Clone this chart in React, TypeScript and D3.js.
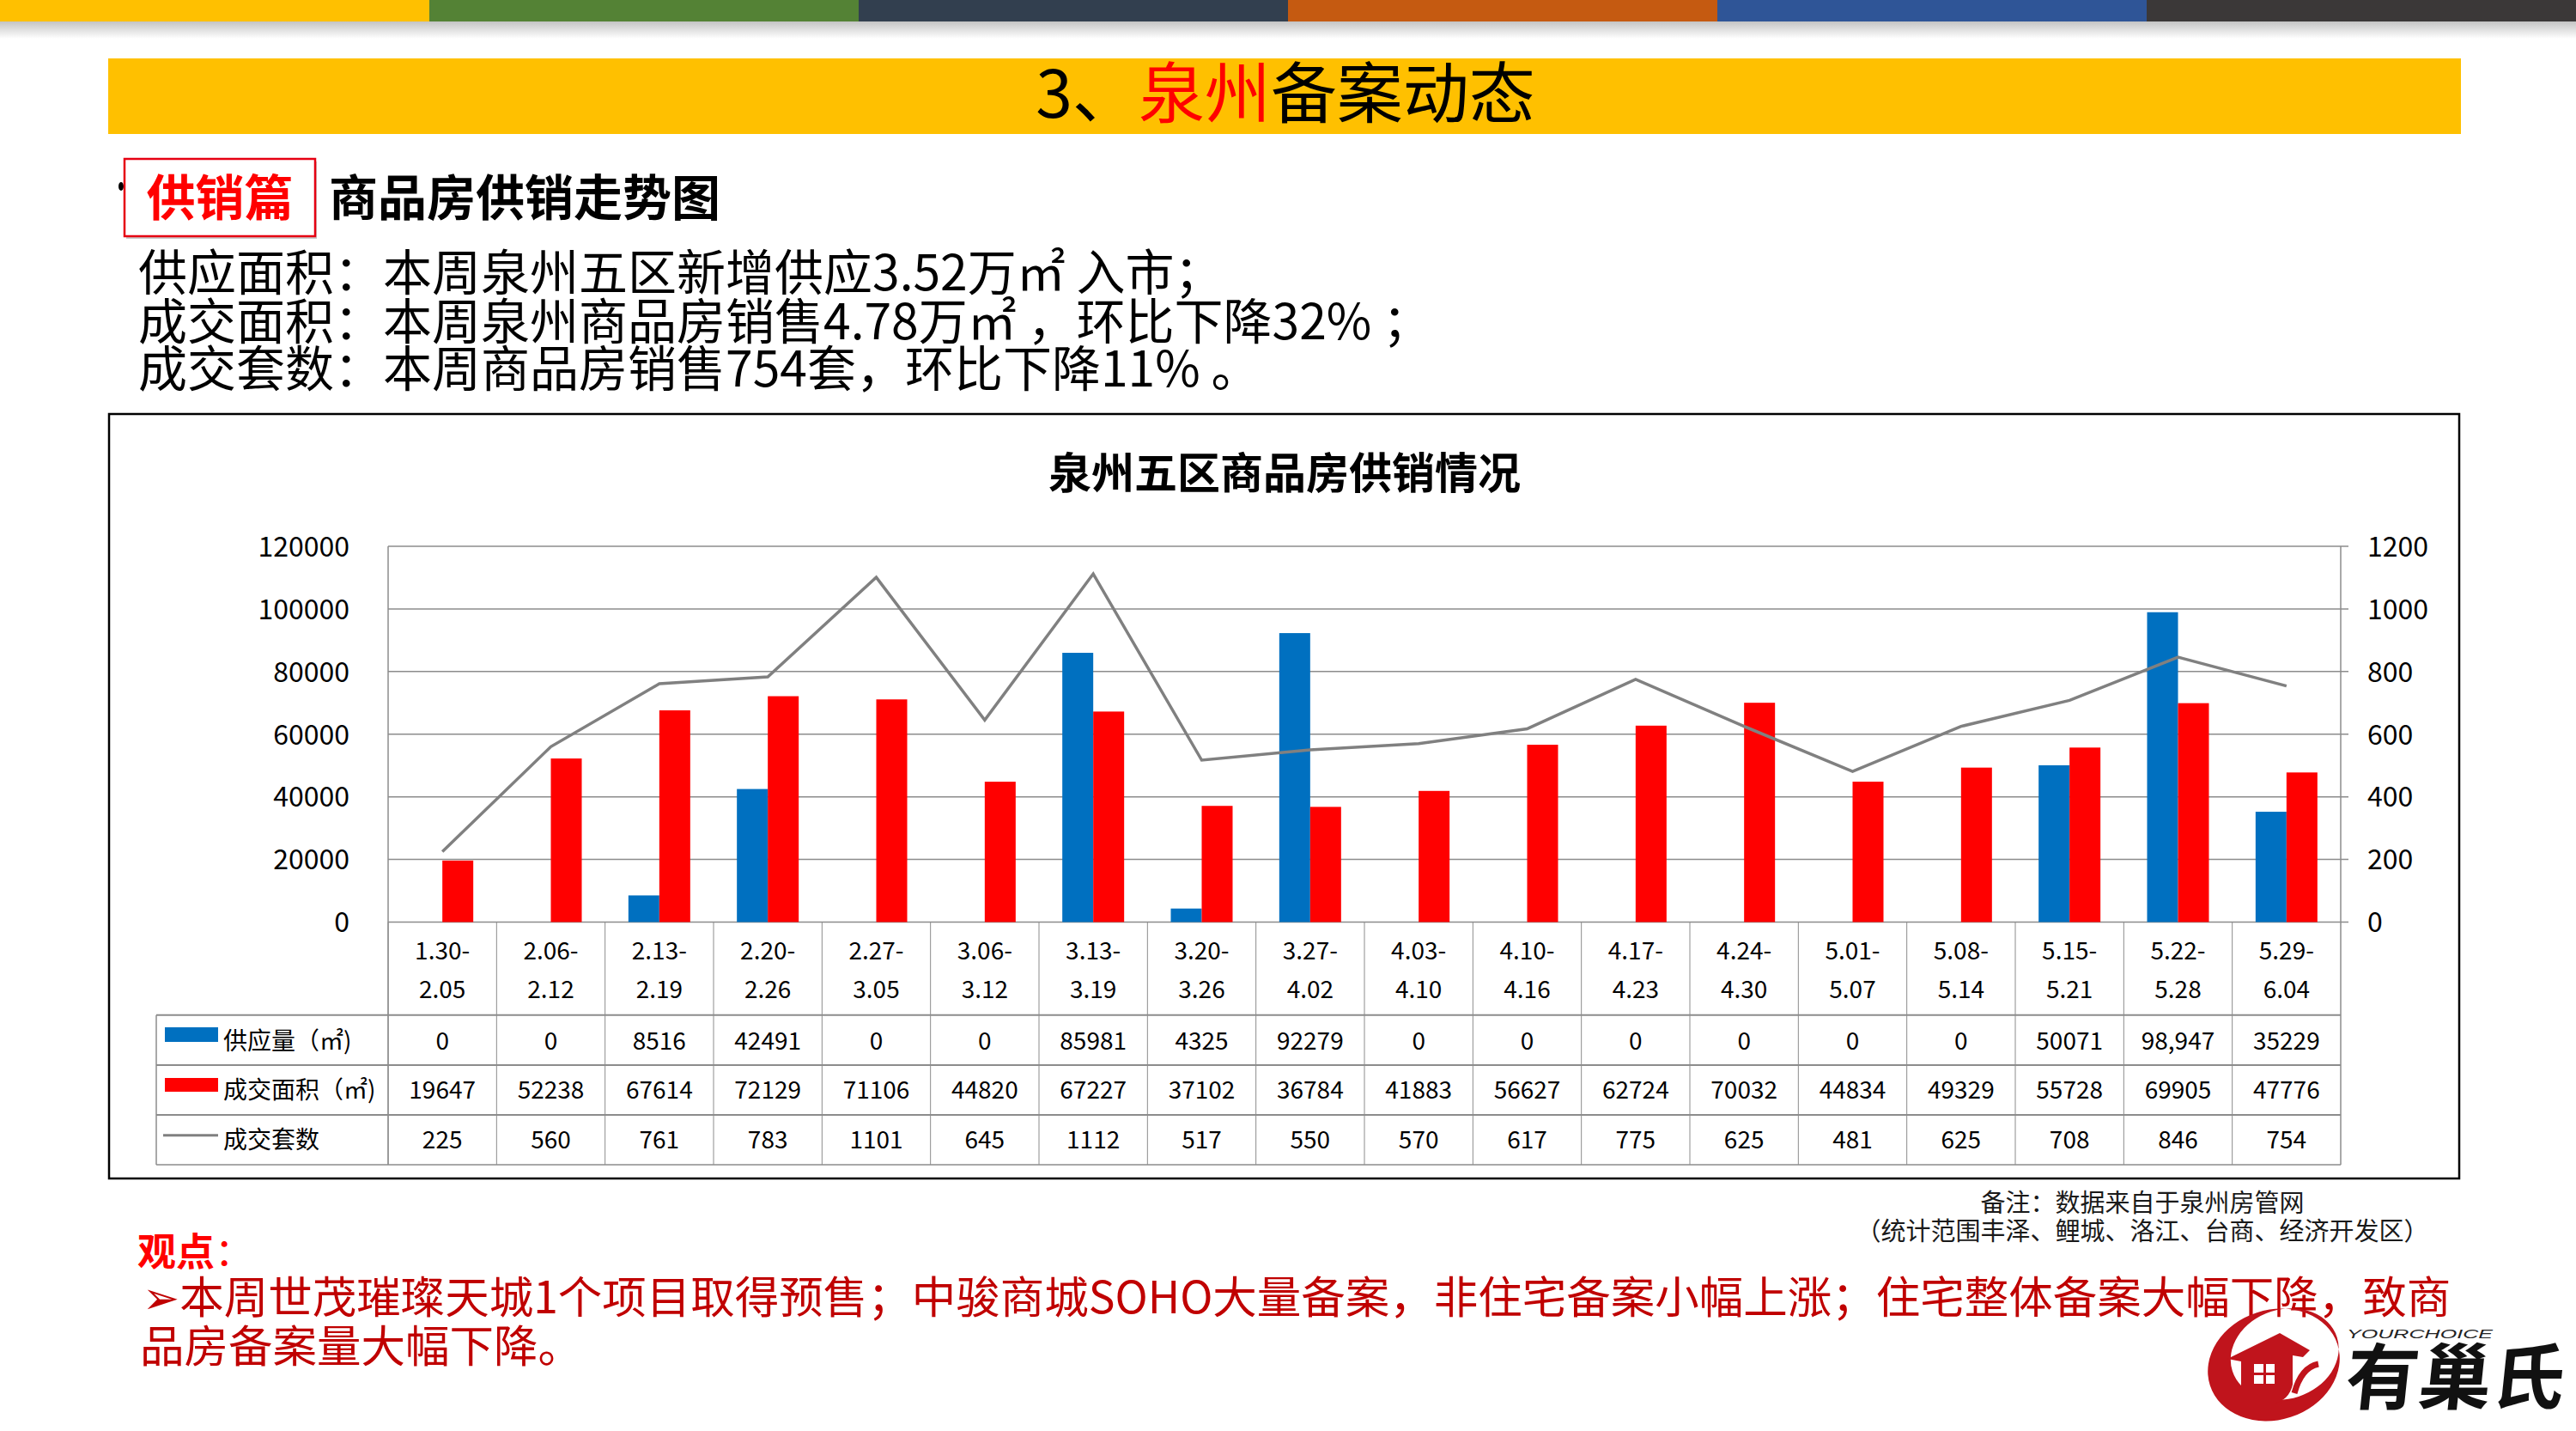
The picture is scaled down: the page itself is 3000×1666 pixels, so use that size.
import React from "react";
import * as d3 from "d3";

// ---------- data ----------
const categoriesStart = ["1.30-","2.06-","2.13-","2.20-","2.27-","3.06-","3.13-","3.20-","3.27-","4.03-","4.10-","4.17-","4.24-","5.01-","5.08-","5.15-","5.22-","5.29-"];
const categoriesEnd = ["2.05","2.12","2.19","2.26","3.05","3.12","3.19","3.26","4.02","4.10","4.16","4.23","4.30","5.07","5.14","5.21","5.28","6.04"];
const supply = [0,0,8516,42491,0,0,85981,4325,92279,0,0,0,0,0,0,50071,98947,35229];
const supplyLabels = ["0","0","8516","42491","0","0","85981","4325","92279","0","0","0","0","0","0","50071","98,947","35229"];
const dealArea = [19647,52238,67614,72129,71106,44820,67227,37102,36784,41883,56627,62724,70032,44834,49329,55728,69905,47776];
const dealCount = [225,560,761,783,1101,645,1112,517,550,570,617,775,625,481,625,708,846,754];
const leftTicks = [0,20000,40000,60000,80000,100000,120000];
const rightTicks = [0,200,400,600,800,1000,1200];
const seriesNames = ["供应量（㎡)","成交面积（㎡)","成交套数"];
const seriesKeys = ["supply","deal"];
const stripColors = ["#FFC000","#548235","#323F4F","#C55A11","#2F5597","#3B3838"];

const FONT = '"Noto Sans CJK SC", "Noto Sans", "DejaVu Sans", sans-serif';
const BLUE = "#0070C0";
const RED = "#FF0000";
const GRAY = "#808080";
const GRID = "#8c8c8c";

export default function App() {
  const W = 3000, H = 1666;
  const plotL = 452, plotR = 2726, plotT = 636, plotB = 1073.5;
  const tableL = 182;
  const rowLines = [1181.7, 1240, 1298, 1356];
  const idx = d3.range(categoriesStart.length).map(String);

  const x = d3.scaleBand<string>().domain(idx).range([plotL, plotR]).padding(0);
  const step = x.bandwidth();
  const x1 = d3.scaleBand<string>().domain(seriesKeys).range([-36, 36]).padding(0);
  const y = d3.scaleLinear().domain([0, 120000]).range([plotB, plotT]);
  const y2 = d3.scaleLinear().domain([0, 1200]).range([plotB, plotT]);
  const cx = (i: number) => (x(String(i)) as number) + step / 2;

  const linePath = d3.line<number>()
    .x((_, i) => cx(i))
    .y((d) => y2(d))(dealCount) as string;

  const rowBase = [1222, 1278.5, 1337];

  return (
    <svg width={W} height={H} viewBox={`0 0 ${W} ${H}`}
      style={{ position: "absolute", left: 0, top: 0, display: "block", background: "#fff" }}
      fontFamily={FONT}>
      <defs>
        <linearGradient id="shadow" x1="0" y1="0" x2="0" y2="1">
          <stop offset="0" stopColor="#c4c4c4" />
          <stop offset="1" stopColor="#ffffff" />
        </linearGradient>
      </defs>
      <rect x={0} y={0} width={W} height={H} fill="#fff" />

      {/* top colour strip */}
      {stripColors.map((c, i) => (
        <rect key={i} x={i * 500} y={0} width={500} height={25} fill={c} />
      ))}
      <rect x={0} y={25} width={W} height={20} fill="url(#shadow)" />

      {/* title bar */}
      <rect x={126} y={68} width={2740} height={88} fill="#FFC000" />
      <text x={1497} y={137} textAnchor="middle" fontSize={77} fill="#000">
        <tspan>3、</tspan><tspan fill="#FF0000">泉州</tspan><tspan>备案动态</tspan>
      </text>

      {/* section header */}
      <ellipse cx={141} cy={217} rx={3} ry={5} fill="#000" />
      <rect x={147} y={188} width={222} height={90} fill="#c8c8c8" />
      <rect x={145} y={185} width={222} height={90} fill="#fff" stroke="#E60012" strokeWidth={2.5} />
      <text x={256} y={251} textAnchor="middle" fontSize={57} fontWeight="bold" fill="#FF0000">供销篇</text>
      <text x={383} y={251} fontSize={57} fontWeight="bold" fill="#000">商品房供销走势图</text>

      {/* summary */}
      <text x={161} y={338} fontSize={57} fill="#000">供应面积：本周泉州五区新增供应3.52万㎡ 入市；</text>
      <text x={161} y={395} fontSize={57} fill="#000">成交面积：本周泉州商品房销售4.78万㎡ ，环比下降32%  ；</text>
      <text x={161} y={450} fontSize={57} fill="#000">成交套数：本周商品房销售754套，环比下降11% 。</text>

      {/* chart frame */}
      <rect x={127} y={482} width={2737} height={890} fill="none" stroke="#000" strokeWidth={2.5} />
      <text x={1496} y={569} textAnchor="middle" fontSize={50} fontWeight="bold" fill="#000">泉州五区商品房供销情况</text>

      {/* gridlines */}
      {leftTicks.map((t) => (
        <line key={t} x1={plotL} x2={plotR + 9} y1={y(t)} y2={y(t)} stroke={GRID} strokeWidth={1.5} />
      ))}
      {/* axes */}
      <line x1={plotL} x2={plotL} y1={plotT} y2={rowLines[3]} stroke={GRID} strokeWidth={1.5} />
      <line x1={plotR} x2={plotR} y1={plotT} y2={rowLines[3]} stroke={GRID} strokeWidth={1.5} />
      {leftTicks.map((t) => (
        <text key={"l" + t} x={407} y={y(t) + 11.8} textAnchor="end" fontSize={32} fill="#000">{t}</text>
      ))}
      {rightTicks.map((t) => (
        <text key={"r" + t} x={2757} y={y2(t) + 11.8} textAnchor="start" fontSize={32} fill="#000">{t}</text>
      ))}

      {/* bars */}
      {supply.map((v, i) => (
        <rect key={"s" + i} x={cx(i) + (x1("supply") as number)} width={x1.bandwidth()}
          y={y(v)} height={plotB - y(v)} fill={BLUE} />
      ))}
      {dealArea.map((v, i) => (
        <rect key={"d" + i} x={cx(i) + (x1("deal") as number)} width={x1.bandwidth()}
          y={y(v)} height={plotB - y(v)} fill={RED} />
      ))}
      {/* line */}
      <path d={linePath} fill="none" stroke={GRAY} strokeWidth={3.5} strokeLinejoin="miter" />

      {/* data table */}
      {idx.map((k, i) => (
        <line key={"v" + i} x1={x(k) as number} x2={x(k) as number} y1={plotB} y2={rowLines[3]} stroke={GRID} strokeWidth={1} />
      ))}
      {rowLines.map((ry, i) => (
        <line key={"h" + i} x1={tableL} x2={plotR} y1={ry} y2={ry} stroke={GRID} strokeWidth={i < 3 ? 2 : 1.5} />
      ))}
      <line x1={tableL} x2={tableL} y1={rowLines[0]} y2={rowLines[3]} stroke={GRID} strokeWidth={1.5} />

      {categoriesStart.map((c, i) => (
        <g key={"c" + i}>
          <text x={cx(i)} y={1117} textAnchor="middle" fontSize={28} fill="#000">{c}</text>
          <text x={cx(i)} y={1162} textAnchor="middle" fontSize={28} fill="#000">{categoriesEnd[i]}</text>
          <text x={cx(i)} y={rowBase[0]} textAnchor="middle" fontSize={28} fill="#000">{supplyLabels[i]}</text>
          <text x={cx(i)} y={rowBase[1]} textAnchor="middle" fontSize={28} fill="#000">{dealArea[i]}</text>
          <text x={cx(i)} y={rowBase[2]} textAnchor="middle" fontSize={28} fill="#000">{dealCount[i]}</text>
        </g>
      ))}

      {/* legend keys */}
      <rect x={192} y={1196} width={62} height={17} fill={BLUE} />
      <rect x={192} y={1255} width={62} height={16} fill={RED} />
      <line x1={190} x2={254} y1={1321.7} y2={1321.7} stroke={GRAY} strokeWidth={3} />
      {seriesNames.map((s, i) => (
        <text key={"n" + i} x={260} y={rowBase[i]} fontSize={28} fill="#000">{s}</text>
      ))}

      {/* notes */}
      <text x={2495} y={1411} textAnchor="middle" fontSize={29} fill="#1a1a1a">备注：数据来自于泉州房管网</text>
      <text x={2495} y={1444} textAnchor="middle" fontSize={29} fill="#1a1a1a">（统计范围丰泽、鲤城、洛江、台商、经济开发区）</text>

      {/* observation */}
      <text x={160} y={1474} fontSize={45} fill="#FF0000">
        <tspan fontWeight="bold">观点</tspan><tspan>：</tspan>
      </text>
      <text x={166} y={1529} fontSize={51.5} fill="#C00000">➢本周世茂璀璨天城1个项目取得预售；中骏商城SOHO大量备案，非住宅备案小幅上涨；住宅整体备案大幅下降，致商</text>
      <text x={163} y={1586} fontSize={51.5} fill="#C00000">品房备案量大幅下降。</text>

      {/* logo */}
      <g>
        <path
          transform="rotate(-18 2648 1589)"
          fillRule="evenodd"
          fill="#C0141C"
          d={`M ${2648 - 78} 1589 a 78 64 0 1 0 156 0 a 78 64 0 1 0 -156 0 Z
              M ${2664 - 64} 1581 a 64 52 0 1 0 128 0 a 64 52 0 1 0 -128 0 Z`}
        />
        <path fill="#C0141C"
          d="M 2594 1582 L 2655 1552 L 2690 1572 L 2682 1580 L 2670 1578 L 2670 1612 Q 2666 1630 2648 1634 L 2610 1634 L 2610 1585 Z" />
        <path fill="none" stroke="#C0141C" strokeWidth={7} d="M 2672 1622 Q 2680 1592 2700 1588" />
        <rect x={2625} y={1588} width={11} height={10} fill="#fff" />
        <rect x={2639} y={1588} width={10} height={10} fill="#fff" />
        <rect x={2625} y={1601} width={11} height={10} fill="#fff" />
        <rect x={2639} y={1601} width={10} height={10} fill="#fff" />
        <text x={2733} y={1558} fontSize={14} fontStyle="italic" fill="#222"
          fontFamily='"Liberation Sans", Arial, sans-serif'
          textLength={170} lengthAdjust="spacingAndGlyphs">YOURCHOICE</text>
        <text x={2730} y={1634} fontSize={84} fontWeight="bold" fill="#111"
          transform="skewX(-6) translate(171 0)" textLength={255} lengthAdjust="spacingAndGlyphs">有巢氏</text>
      </g>
    </svg>
  );
}
